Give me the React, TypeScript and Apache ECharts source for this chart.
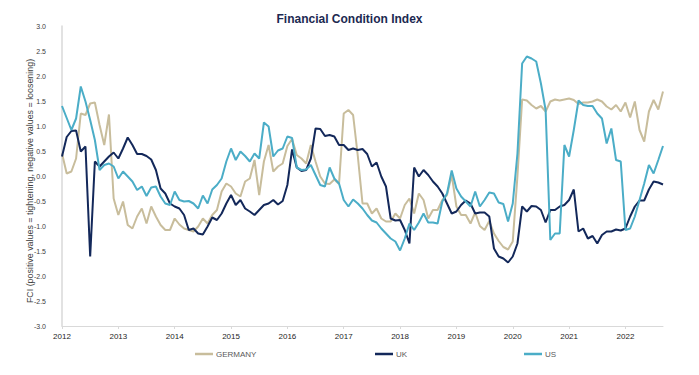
import React, { useEffect, useRef } from "react";
import * as echarts from "echarts";

const startYear = 2012;
const germany = [
  0.45, 0.05, 0.09, 0.35, 1.25, 1.22, 1.45, 1.47, 1.02, 0.62, 1.23, -0.45,
  -0.78, -0.51, -0.98, -1.05, -0.81, -0.65, -0.95, -0.61, -0.81, -0.98, -1.08, -1.08,
  -0.85, -0.97, -1.05, -1.08, -1.11, -1.01, -0.85, -0.95, -0.78, -0.68, -0.31, -0.15,
  -0.21, -0.35, -0.41, -0.11, -0.05, 0.32, -0.38, 0.29, 0.62, 0.09, 0.19, 0.25,
  0.6, 0.74, 0.42, 0.35, 0.25, 0.62, 0.29, -0.01, -0.15, -0.16, -0.07, -0.16,
  1.25, 1.32, 1.22, 0.4, -0.55, -0.55, -0.75, -0.65, -0.85, -0.91, -0.91, -0.75,
  -0.85, -0.58, -0.45, -0.75, -0.35, -0.48, -0.85, -0.68, -0.68, -0.48, -0.38, 0.02,
  -0.61, -0.78, -0.78, -0.95, -0.73, -1.0, -1.08, -0.9, -1.15, -1.3, -1.42, -1.47,
  -1.31, 0.0, 1.53, 1.51, 1.42, 1.35, 1.4, 1.29, 1.49, 1.53, 1.51, 1.53,
  1.55, 1.52, 1.44, 1.47, 1.47, 1.49, 1.53, 1.49, 1.39, 1.33, 1.42, 1.29,
  1.47, 1.17, 1.49, 0.92, 0.69, 1.29, 1.52, 1.33, 1.69,
];
const uk = [
  0.39, 0.78, 0.9, 0.91, 0.49, 0.59, -1.61, 0.29, 0.19, 0.29, 0.39, 0.47,
  0.35, 0.55, 0.77, 0.62, 0.44, 0.44, 0.4, 0.33, 0.12, -0.25, -0.35, -0.55,
  -0.61, -0.65, -0.78, -1.08, -1.05, -1.15, -1.17, -1.01, -0.83, -0.88, -0.75, -0.55,
  -0.38, -0.58, -0.48, -0.65, -0.71, -0.78, -0.68, -0.58, -0.55, -0.48, -0.57, -0.5,
  -0.18, 0.53, 0.17, 0.1, 0.12, 0.35, 0.95, 0.94, 0.8, 0.82, 0.79, 0.62,
  0.62, 0.52, 0.55, 0.52, 0.54, 0.44, 0.19, 0.27, -0.01, -0.21, -0.85, -0.89,
  -0.88, -1.08, -1.35, 0.17, -0.01, 0.12, 0.02, -0.11, -0.21, -0.35, -0.55, -0.75,
  -0.71, -0.58, -0.49, -0.55, -0.75, -0.73, -0.73, -0.81, -1.45, -1.61, -1.65, -1.73,
  -1.61, -1.35, -0.61, -0.71, -0.6, -0.61, -0.68, -0.93, -0.68, -0.68, -0.61, -0.58,
  -0.48, -0.27, -1.11, -1.05, -1.25, -1.2, -1.35, -1.18, -1.11, -1.11, -1.07, -1.09,
  -1.05, -0.81, -0.61, -0.49, -0.49, -0.27, -0.11, -0.13, -0.17,
];
const us = [
  1.4, 1.16, 0.92, 1.15, 1.79, 1.49, 1.12, 0.72, 0.12, 0.22, 0.25, 0.19,
  -0.05, 0.09, -0.01, -0.11, -0.28, -0.21, -0.4, -0.23, -0.21, -0.41, -0.55, -0.58,
  -0.31, -0.48, -0.51, -0.5, -0.55, -0.65, -0.39, -0.55, -0.27, -0.18, -0.05, 0.29,
  0.55, 0.32, 0.49, 0.4, 0.29, 0.45, 0.35, 1.07, 0.99, 0.39, 0.51, 0.55,
  0.79, 0.76, 0.17, 0.12, 0.13, 0.22, 0.02, -0.18, -0.21, 0.17, -0.05, -0.15,
  -0.48, -0.61, -0.47, -0.55, -0.65, -0.78, -0.89, -0.93, -1.05, -1.15, -1.25, -1.31,
  -1.49, -1.25, -0.95, -1.08, -0.93, -0.75, -0.93, -0.93, -0.95, -0.51, -0.35, 0.11,
  -0.25, -0.41, -0.51, -0.61, -0.31, -0.61, -0.48, -0.33, -0.35, -0.53, -0.56, -0.91,
  -0.55, 0.45, 2.25, 2.39, 2.35, 2.29, 1.85, 1.32, -1.28, -1.15, -1.15, 0.62,
  0.39, 0.92, 1.51, 1.42, 1.4, 1.4, 1.25, 1.15, 0.65, 0.95, 0.32, 0.29,
  -1.08, -1.05, -0.81, -0.48, -0.15, 0.22, 0.05, 0.32, 0.6,
];
const yAxisTitle = "FCI (positive values = tightening, negative values = loosening)";
const chartTitle = "Financial Condition Index";

const months: string[] = [];
for (let i = 0; i < us.length; i++) {
  const y = startYear + Math.floor(i / 12);
  const m = (i % 12) + 1;
  months.push(`${y}-${m < 10 ? "0" + m : m}`);
}

const FONT = "'Liberation Sans Narrow', 'Liberation Sans', sans-serif";

export default function App() {
  const ref = useRef<HTMLDivElement>(null);
  useEffect(() => {
    const chart = echarts.init(ref.current!, null, { renderer: "svg" });
    const legendBase = {
      orient: "horizontal" as const,
      top: 350,
      padding: 0,
      icon: "rect",
      itemWidth: 18,
      itemHeight: 2.5,
      textStyle: { fontSize: 8, color: "#595959", fontFamily: FONT, padding: [0, 0, 0, -2] },
    };
    chart.setOption({
      animation: false,
      title: {
        text: chartTitle,
        left: "center",
        top: 8,
        textStyle: { fontSize: 12, fontWeight: "bold", color: "#1c2951", fontFamily: FONT },
      },
      legend: [
        { ...legendBase, left: 195, data: ["GERMANY"] },
        { ...legendBase, left: 375, data: ["UK"] },
        { ...legendBase, left: 524, data: ["US"] },
      ],
      graphic: [
        {
          type: "text",
          x: 30,
          y: 181,
          rotation: Math.PI / 2,
          style: {
            text: yAxisTitle,
            align: "center",
            verticalAlign: "middle",
            fontSize: 8.9,
            fill: "#404040",
            fontFamily: FONT,
          },
        },
      ],
      grid: { left: 62, right: 36, top: 26, bottom: 49 },
      xAxis: [
        {
          type: "category",
          data: months,
          boundaryGap: false,
          position: "bottom",
          axisLine: { show: false },
          axisTick: { show: false },
          axisLabel: {
            interval: (idx: number) => idx % 12 === 0,
            formatter: (v: string) => v.slice(0, 4),
            fontSize: 8,
            color: "#262626",
            fontFamily: FONT,
            margin: 6,
          },
        },
        {
          type: "category",
          data: months,
          boundaryGap: false,
          position: "bottom",
          axisLine: { show: true, onZero: true, lineStyle: { color: "#d9d9d9", width: 1 } },
          axisTick: {
            show: true,
            interval: (idx: number) => idx % 12 === 0,
            length: 3,
            lineStyle: { color: "#d9d9d9" },
          },
          axisLabel: { show: false },
        },
      ],
      yAxis: {
        type: "value",
        min: -3,
        max: 3,
        interval: 0.5,
        axisLine: { show: true, lineStyle: { color: "#d9d9d9", width: 1.5 } },
        axisTick: { show: false },
        splitLine: { show: false },
        axisLabel: {
          formatter: (v: number) => v.toFixed(1),
          fontSize: 7,
          color: "#404040",
          fontFamily: FONT,
          margin: 16,
        },
      },
      series: [
        {
          name: "GERMANY",
          type: "line",
          data: germany,
          showSymbol: false,
          symbol: "none",
          lineStyle: { color: "#c8bd9c", width: 2 },
          itemStyle: { color: "#c8bd9c" },
        },
        {
          name: "UK",
          type: "line",
          data: uk,
          showSymbol: false,
          symbol: "none",
          lineStyle: { color: "#13285a", width: 2 },
          itemStyle: { color: "#13285a" },
        },
        {
          name: "US",
          type: "line",
          data: us,
          showSymbol: false,
          symbol: "none",
          lineStyle: { color: "#4badc7", width: 2 },
          itemStyle: { color: "#4badc7" },
        },
      ],
    });
    return () => chart.dispose();
  }, []);
  return <div ref={ref} style={{ width: 699, height: 375, position: "absolute", left: 0, top: 0, background: "#fff" }} />;
}
